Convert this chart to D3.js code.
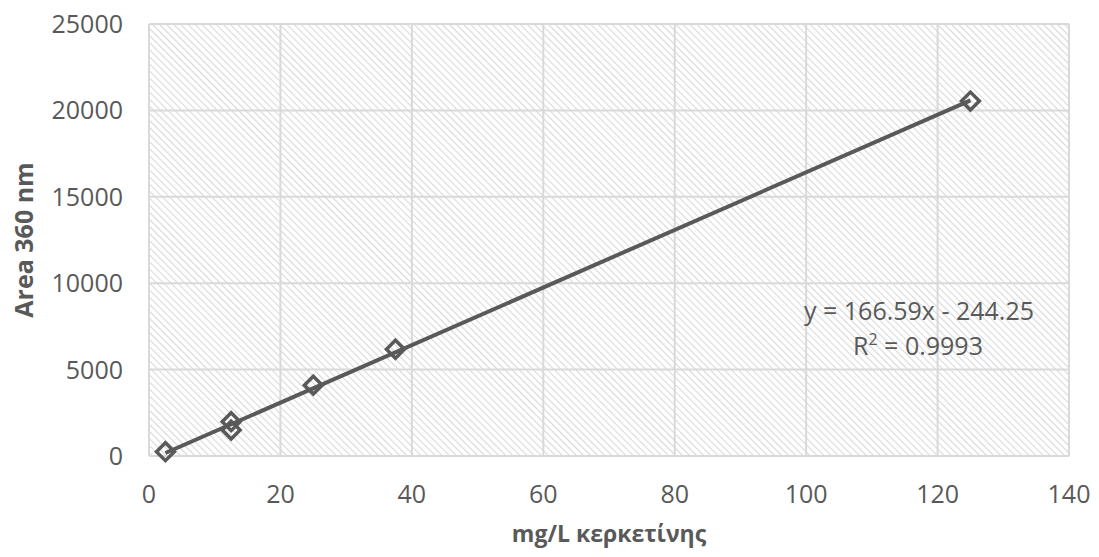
<!DOCTYPE html>
<html>
<head>
<meta charset="utf-8">
<script src="https://cdn.jsdelivr.net/npm/d3@7"></script>
<style>
  body { margin: 0; background: #fff; }
  svg { display: block; font-family: "Open Sans", "Liberation Sans", sans-serif; }
</style>
</head>
<body>
<div id="chart"></div>
<script>
// concentration (mg/L) and measured peak area
const conc = [2.5, 12.5, 12.5, 25, 37.5, 125];
const area = [250, 1500, 1985, 4100, 6180, 20540];
const xTicks = [0, 20, 40, 60, 80, 100, 120, 140];
const yTicks = [0, 5000, 10000, 15000, 20000, 25000];
const slope = 166.59, intercept = -244.25;

const width = 1099, height = 557;
const margin = {left: 149, right: 30, top: 24, bottom: 101};

const svg = d3.select("#chart").append("svg")
  .attr("width", width).attr("height", height);

const x = d3.scaleLinear().domain([0, 140]).range([margin.left, width - margin.right]);
const y = d3.scaleLinear().domain([0, 25000]).range([height - margin.bottom, margin.top]);

// hatched plot background
const defs = svg.append("defs");
const pat = defs.append("pattern")
  .attr("id", "hatch").attr("patternUnits", "userSpaceOnUse")
  .attr("width", 5).attr("height", 5)
  .attr("patternTransform", "rotate(-45)");
pat.append("rect").attr("width", 5).attr("height", 5).attr("fill", "#fff");
pat.append("line").attr("x1", 0).attr("y1", 0).attr("x2", 0).attr("y2", 5)
  .attr("stroke", "#d9d9d9").attr("stroke-width", 2.2);

svg.append("rect")
  .attr("x", x(0)).attr("y", y(25000))
  .attr("width", x(140) - x(0)).attr("height", y(0) - y(25000))
  .attr("fill", "url(#hatch)");

// gridlines
svg.append("g").selectAll("line").data(xTicks).join("line")
  .attr("x1", d => x(d)).attr("x2", d => x(d))
  .attr("y1", y(0)).attr("y2", y(25000))
  .attr("stroke", "#d9d9d9").attr("stroke-width", 2);
svg.append("g").selectAll("line").data(yTicks).join("line")
  .attr("x1", x(0)).attr("x2", x(140))
  .attr("y1", d => y(d)).attr("y2", d => y(d))
  .attr("stroke", "#d9d9d9").attr("stroke-width", 2);

// tick labels
svg.append("g").selectAll("text").data(yTicks).join("text")
  .attr("x", x(0) - 26).attr("y", d => y(d)).attr("dy", "0.36em")
  .attr("text-anchor", "end").attr("font-size", 25).attr("fill", "#595959")
  .text(d => d);
svg.append("g").selectAll("text").data(xTicks).join("text")
  .attr("x", d => x(d)).attr("y", y(0) + 47)
  .attr("text-anchor", "middle").attr("font-size", 25).attr("fill", "#595959")
  .text(d => d);

// axis titles
svg.append("text")
  .attr("x", (x(0) + x(140)) / 2).attr("y", 542)
  .attr("text-anchor", "middle").attr("font-size", 23).attr("font-weight", "bold")
  .attr("fill", "#595959").text("mg/L κερκετίνης");
svg.append("text")
  .attr("transform", `translate(33,${(y(0) + y(25000)) / 2}) rotate(-90)`)
  .attr("text-anchor", "middle").attr("font-size", 25).attr("font-weight", "bold")
  .attr("fill", "#595959").text("Area 360 nm");

// linear trendline over data range
const xr = d3.extent(conc);
svg.append("line")
  .attr("x1", x(xr[0])).attr("y1", y(slope * xr[0] + intercept))
  .attr("x2", x(xr[1])).attr("y2", y(slope * xr[1] + intercept))
  .attr("stroke", "#595959").attr("stroke-width", 4);

// diamond markers
const diamond = d3.symbol().type(d3.symbolSquare).size(160);
svg.append("g").selectAll("path").data(conc).join("path")
  .attr("d", diamond)
  .attr("transform", (d, i) => `translate(${x(d)},${y(area[i])}) rotate(45)`)
  .attr("fill", "none").attr("stroke", "#595959").attr("stroke-width", 3.5);

// equation label
svg.append("text").attr("font-size", 25).attr("fill", "#595959")
  .attr("text-anchor", "middle").attr("x", 919).attr("y", 320)
  .text("y = 166.59x - 244.25");
const r2 = svg.append("text").attr("font-size", 25).attr("fill", "#595959")
  .attr("text-anchor", "middle").attr("x", 918).attr("y", 355);
r2.append("tspan").text("R");
r2.append("tspan").attr("font-size", 16).attr("dy", -10).text("2");
r2.append("tspan").attr("dy", 10).text(" = 0.9993");
</script>
</body>
</html>
